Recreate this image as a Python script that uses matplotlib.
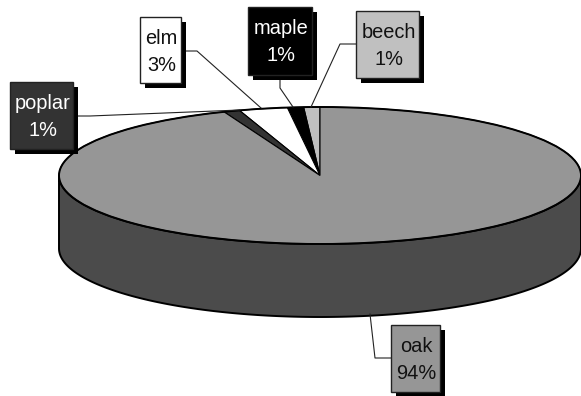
import numpy as np
import matplotlib
matplotlib.use("Agg")
import matplotlib.pyplot as plt
from matplotlib.patches import Wedge, Polygon, Rectangle, Ellipse
from matplotlib.transforms import Affine2D

plt.rcParams['font.family'] = ['Liberation Sans', 'DejaVu Sans']

# share of each species, counter-clockwise from 12 o'clock
species = ["beech", "maple", "elm", "poplar", "oak"]
shares = [1, 1, 3, 1, 94]
colors = ["#c0c0c0", "#000000", "#ffffff", "#333333", "#969696"]
text_colors = ["#111111", "#ffffff", "#111111", "#ffffff", "#111111"]

# label box: left, top, right, bottom
boxes = [(356, 11, 419, 78), (248, 7, 312, 75), (140, 17, 181, 83),
         (10, 82, 73, 149), (391, 325, 440, 392)]
# leader line vertices for each label
leaders = [
    [(356, 44), (340, 44), (311, 107)],
    [(280, 76), (280, 88), (293, 107)],
    [(181, 51), (197, 51), (261, 108)],
    [(73, 116), (90, 116), (240, 110)],
    [(391, 358), (375, 358), (370, 314)],
]

# disc geometry
cx, cy = 320, 175.5
rx, ry = 261, 68.5
depth = 73

fig = plt.figure(figsize=(5.81, 3.96), dpi=100)
ax = fig.add_axes([0, 0, 1, 1])
ax.set_xlim(0, 581)
ax.set_ylim(396, 0)
ax.axis("off")

# side wall of the disc
t = np.linspace(0, np.pi, 200)
rim_x = cx + rx * np.cos(t)
rim_y = cy + ry * np.sin(t)
wall = np.vstack([np.column_stack([rim_x, rim_y]),
                  np.column_stack([rim_x[::-1], rim_y[::-1] + depth])])
ax.add_patch(Polygon(wall, closed=True, facecolor="#4b4b4b", edgecolor="black",
                     linewidth=1.4, zorder=1))

# top face, slices squashed onto the ellipse
to_disc = Affine2D().scale(rx, -ry).translate(cx, cy) + ax.transData
start = 90.0
total = sum(shares)
for share, color in zip(shares, colors):
    sweep = 360.0 * share / total
    ax.add_patch(Wedge((0, 0), 1, start, start + sweep, transform=to_disc,
                       facecolor=color, edgecolor="black", linewidth=0.8, zorder=2))
    start += sweep
ax.add_patch(Ellipse((cx, cy), 2 * rx, 2 * ry, facecolor="none", edgecolor="black",
                     linewidth=1.4, zorder=2))

# leader lines
for pts in leaders:
    xs, ys = zip(*pts)
    ax.plot(xs, ys, color="#222222", linewidth=0.8, zorder=3)

# label boxes with drop shadow
for name, share, color, tcolor, box in zip(species, shares, colors, text_colors, boxes):
    left, top, right, bottom = box
    ax.add_patch(Rectangle((left + 4.5, top + 4.5), right - left, bottom - top,
                           facecolor="black", edgecolor="none", zorder=4))
    ax.add_patch(Rectangle((left, top), right - left, bottom - top,
                           facecolor=color, edgecolor="#222222", linewidth=1.0, zorder=5))
    mid = (left + right) / 2 + 1
    ax.text(mid, top + 27, name, color=tcolor, fontsize=14.4, ha="center", va="baseline", zorder=6)
    ax.text(mid, top + 54, f"{share}%", color=tcolor, fontsize=14.4, ha="center", va="baseline", zorder=6)

fig.savefig("out.png", dpi=100)
